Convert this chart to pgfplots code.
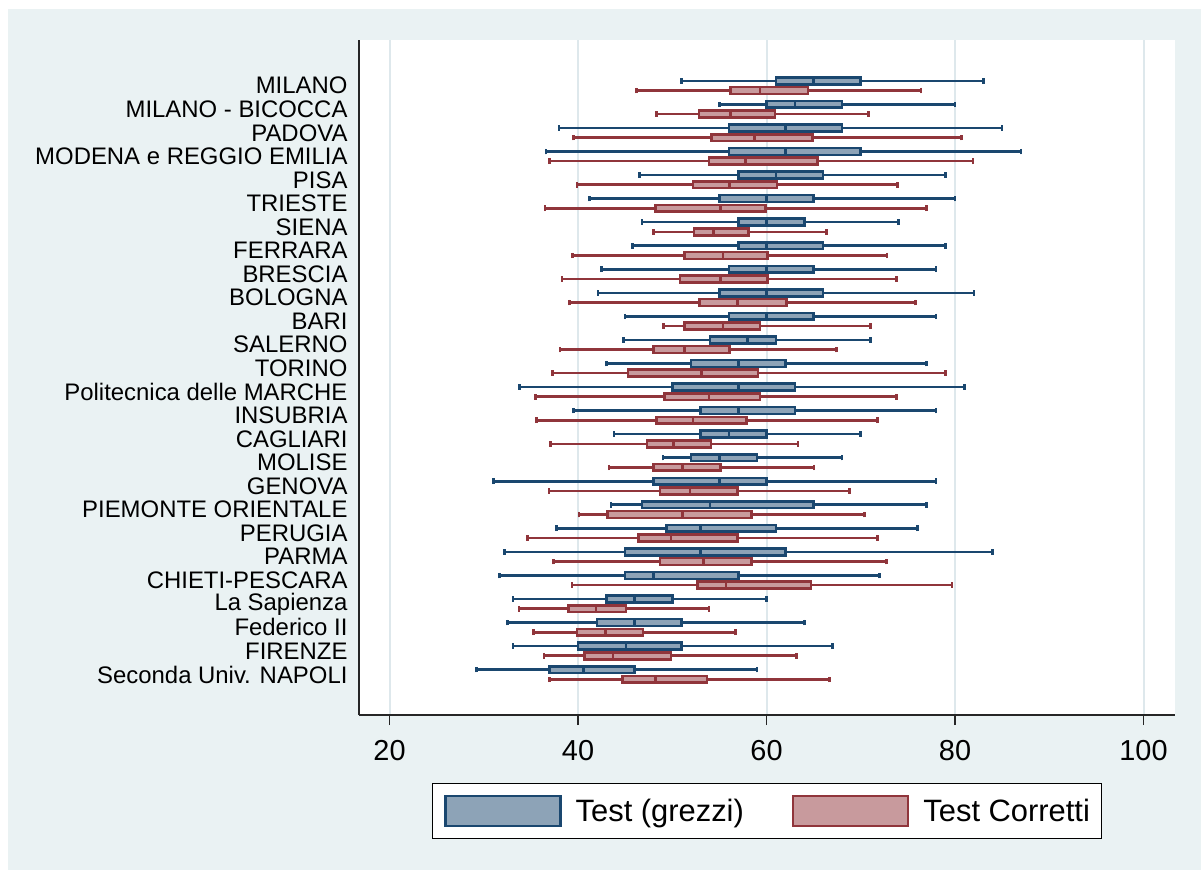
\documentclass[border=0pt]{standalone}
\usepackage{fontspec}
\setmainfont{Liberation Sans}
\usepackage{pgfplots}
\pgfplotsset{compat=1.18}
\usepgfplotslibrary{statistics}
\definecolor{bgblue}{RGB}{234,242,243}
\definecolor{gridc}{RGB}{222,232,236}
\definecolor{bline}{RGB}{26,71,111}
\definecolor{bfill}{RGB}{141,163,183}
\definecolor{rline}{RGB}{144,53,59}
\definecolor{rfill}{RGB}{200,154,157}
\pgfplotsset{
  bx/.style={draw=bline, fill=bfill, line width=2.6bp, forget plot},
  rx/.style={draw=rline, fill=rfill, line width=2.6bp, forget plot},
}
% B{pos}{lw}{lq}{med}{uq}{uw}
\newcommand{\B}[6]{\addplot[bx, boxplot prepared={draw position=#1, lower whisker=#2, lower quartile=#3, median=#4, upper quartile=#5, upper whisker=#6}] coordinates {};}
\newcommand{\R}[6]{\addplot[rx, boxplot prepared={draw position=#1, lower whisker=#2, lower quartile=#3, median=#4, upper quartile=#5, upper whisker=#6}] coordinates {};}

\begin{document}
\begin{tikzpicture}
\fill[white] (-359bp,-155bp) rectangle (842bp,715bp);
\fill[bgblue] (-351bp,-155bp) rectangle (842bp,706bp);
\fill[white] (0bp,0bp) rectangle (816bp,675bp);
\begin{axis}[
  at={(0bp,0bp)}, anchor=south west,
  scale only axis, width=816bp, height=675bp,
  xmin=16.76, xmax=103.34, ymin=-1.72, ymax=26.94,
  axis lines*=left,
  axis line style={line width=1.2bp, color=black!85},
  xtick={20,40,60,80,100},
  tick align=outside,
  major tick length=10bp,
  xtick style={line width=1.2bp, color=black!85},
  ytick={0,...,25},
  ytick style={draw=none},
  yticklabels={Seconda Univ. NAPOLI, FIRENZE, Federico II, La Sapienza, CHIETI-PESCARA, PARMA, PERUGIA, PIEMONTE ORIENTALE, GENOVA, MOLISE, CAGLIARI, INSUBRIA, Politecnica delle MARCHE, TORINO, SALERNO, BARI, BOLOGNA, BRESCIA, FERRARA, SIENA, TRIESTE, PISA, MODENA e REGGIO EMILIA, PADOVA, MILANO - BICOCCA, MILANO},
  xmajorgrids, grid style={gridc, line width=2bp},
  /pgf/number format/assume math mode=true,
  xticklabel style={font=\fontsize{29}{30}\selectfont, yshift=-12bp},
  yticklabel style={font=\fontsize{24}{24}\selectfont, xshift=2bp},
  boxplot/box extend=0.29,
  boxplot/whisker extend=0.24,
  legend columns=2,
  legend cell align=left,
  legend style={at={(0.5,-0.1422)}, anchor=center, draw=black, line width=1bp, fill=white,
    font=\fontsize{31}{32}\selectfont, inner xsep=12bp, inner ysep=11bp,
    nodes={inner sep=0pt},
    /tikz/every odd column/.style={column sep=14bp},
    /tikz/every even column/.style={column sep=48bp}},
]
\addlegendimage{legend image code/.code={\draw[draw=bline, fill=bfill, line width=2.6bp] (0bp,-15bp) rectangle (115bp,15bp);}}
\addlegendentry{Test (grezzi)}
\addlegendimage{legend image code/.code={\draw[draw=rline, fill=rfill, line width=2.6bp] (0bp,-15bp) rectangle (115bp,15bp);}}
\addlegendentry{Test Corretti}
% Test (grezzi)
\B{25.206}{51}{61}{65}{70}{83}
\B{24.206}{55}{60}{63}{68}{80}
\B{23.206}{38}{56}{62}{68}{85}
\B{22.206}{36.6}{56}{62}{70}{87}
\B{21.206}{46.5}{57}{61}{66}{79}
\B{20.206}{41.2}{55}{60}{65}{80}
\B{19.206}{46.8}{57}{60}{64}{74}
\B{18.206}{45.75}{57}{60}{66}{79}
\B{17.206}{42.5}{56}{60}{65}{78}
\B{16.206}{42.1}{55}{60}{66}{82}
\B{15.206}{45}{56}{60}{65}{78}
\B{14.206}{44.8}{54}{58}{61}{71}
\B{13.206}{43}{52}{57}{62}{77}
\B{12.206}{33.8}{50}{57}{63}{81}
\B{11.206}{39.5}{53}{57}{63}{78}
\B{10.206}{43.8}{53}{56}{60}{70}
\B{9.206}{49}{52}{55}{59}{68}
\B{8.206}{31}{48}{55}{60}{78}
\B{7.206}{43.5}{46.8}{54}{65}{77}
\B{6.206}{37.7}{49.4}{53}{61}{76}
\B{5.206}{32.2}{45}{53}{62}{84}
\B{4.206}{31.65}{45}{48}{57}{72}
\B{3.206}{33.1}{43}{46}{50}{60}
\B{2.206}{32.5}{42}{46}{51}{64}
\B{1.206}{33.1}{40}{45.1}{51}{67}
\B{0.206}{29.2}{37}{40.6}{46}{59}
% Test Corretti
\R{24.794}{46.2}{56.2}{59.3}{64.4}{76.4}
\R{23.794}{48.3}{52.85}{56.2}{60.9}{70.85}
\R{22.794}{39.5}{54.15}{58.7}{64.9}{80.7}
\R{21.794}{37.0}{53.9}{57.8}{65.4}{81.9}
\R{20.794}{39.9}{52.2}{56.1}{61.1}{73.9}
\R{19.794}{36.5}{48.2}{55.1}{59.9}{77.0}
\R{18.794}{48.0}{52.3}{54.35}{58.1}{66.35}
\R{17.794}{39.4}{51.3}{55.4}{60.1}{72.8}
\R{16.794}{38.3}{50.8}{55.1}{60.1}{73.8}
\R{15.794}{39.1}{52.9}{56.9}{62.1}{75.8}
\R{14.794}{49.1}{51.3}{55.4}{59.3}{71.05}
\R{13.794}{38.1}{48.0}{51.3}{56.1}{67.4}
\R{12.794}{37.3}{45.3}{53.1}{59.1}{79.0}
\R{11.794}{35.5}{49.2}{53.9}{59.3}{73.8}
\R{10.794}{35.6}{48.3}{52.2}{57.9}{71.8}
\R{9.794}{37.1}{47.3}{50.1}{54.1}{63.35}
\R{8.794}{43.3}{48.0}{51.1}{55.1}{65.05}
\R{7.794}{36.9}{48.7}{51.9}{56.9}{68.8}
\R{6.794}{40.1}{43.1}{51.1}{58.4}{70.4}
\R{5.794}{34.65}{46.4}{49.85}{56.9}{71.8}
\R{4.794}{37.4}{48.7}{53.3}{58.4}{72.75}
\R{3.794}{39.35}{52.65}{55.7}{64.7}{79.7}
\R{2.794}{33.75}{39.0}{41.9}{45.1}{53.9}
\R{1.794}{35.3}{39.9}{42.9}{46.9}{56.7}
\R{0.794}{36.4}{40.7}{43.7}{49.85}{63.2}
\R{-0.206}{37.0}{44.7}{48.2}{53.7}{66.7}
\end{axis}
\end{tikzpicture}
\end{document}
